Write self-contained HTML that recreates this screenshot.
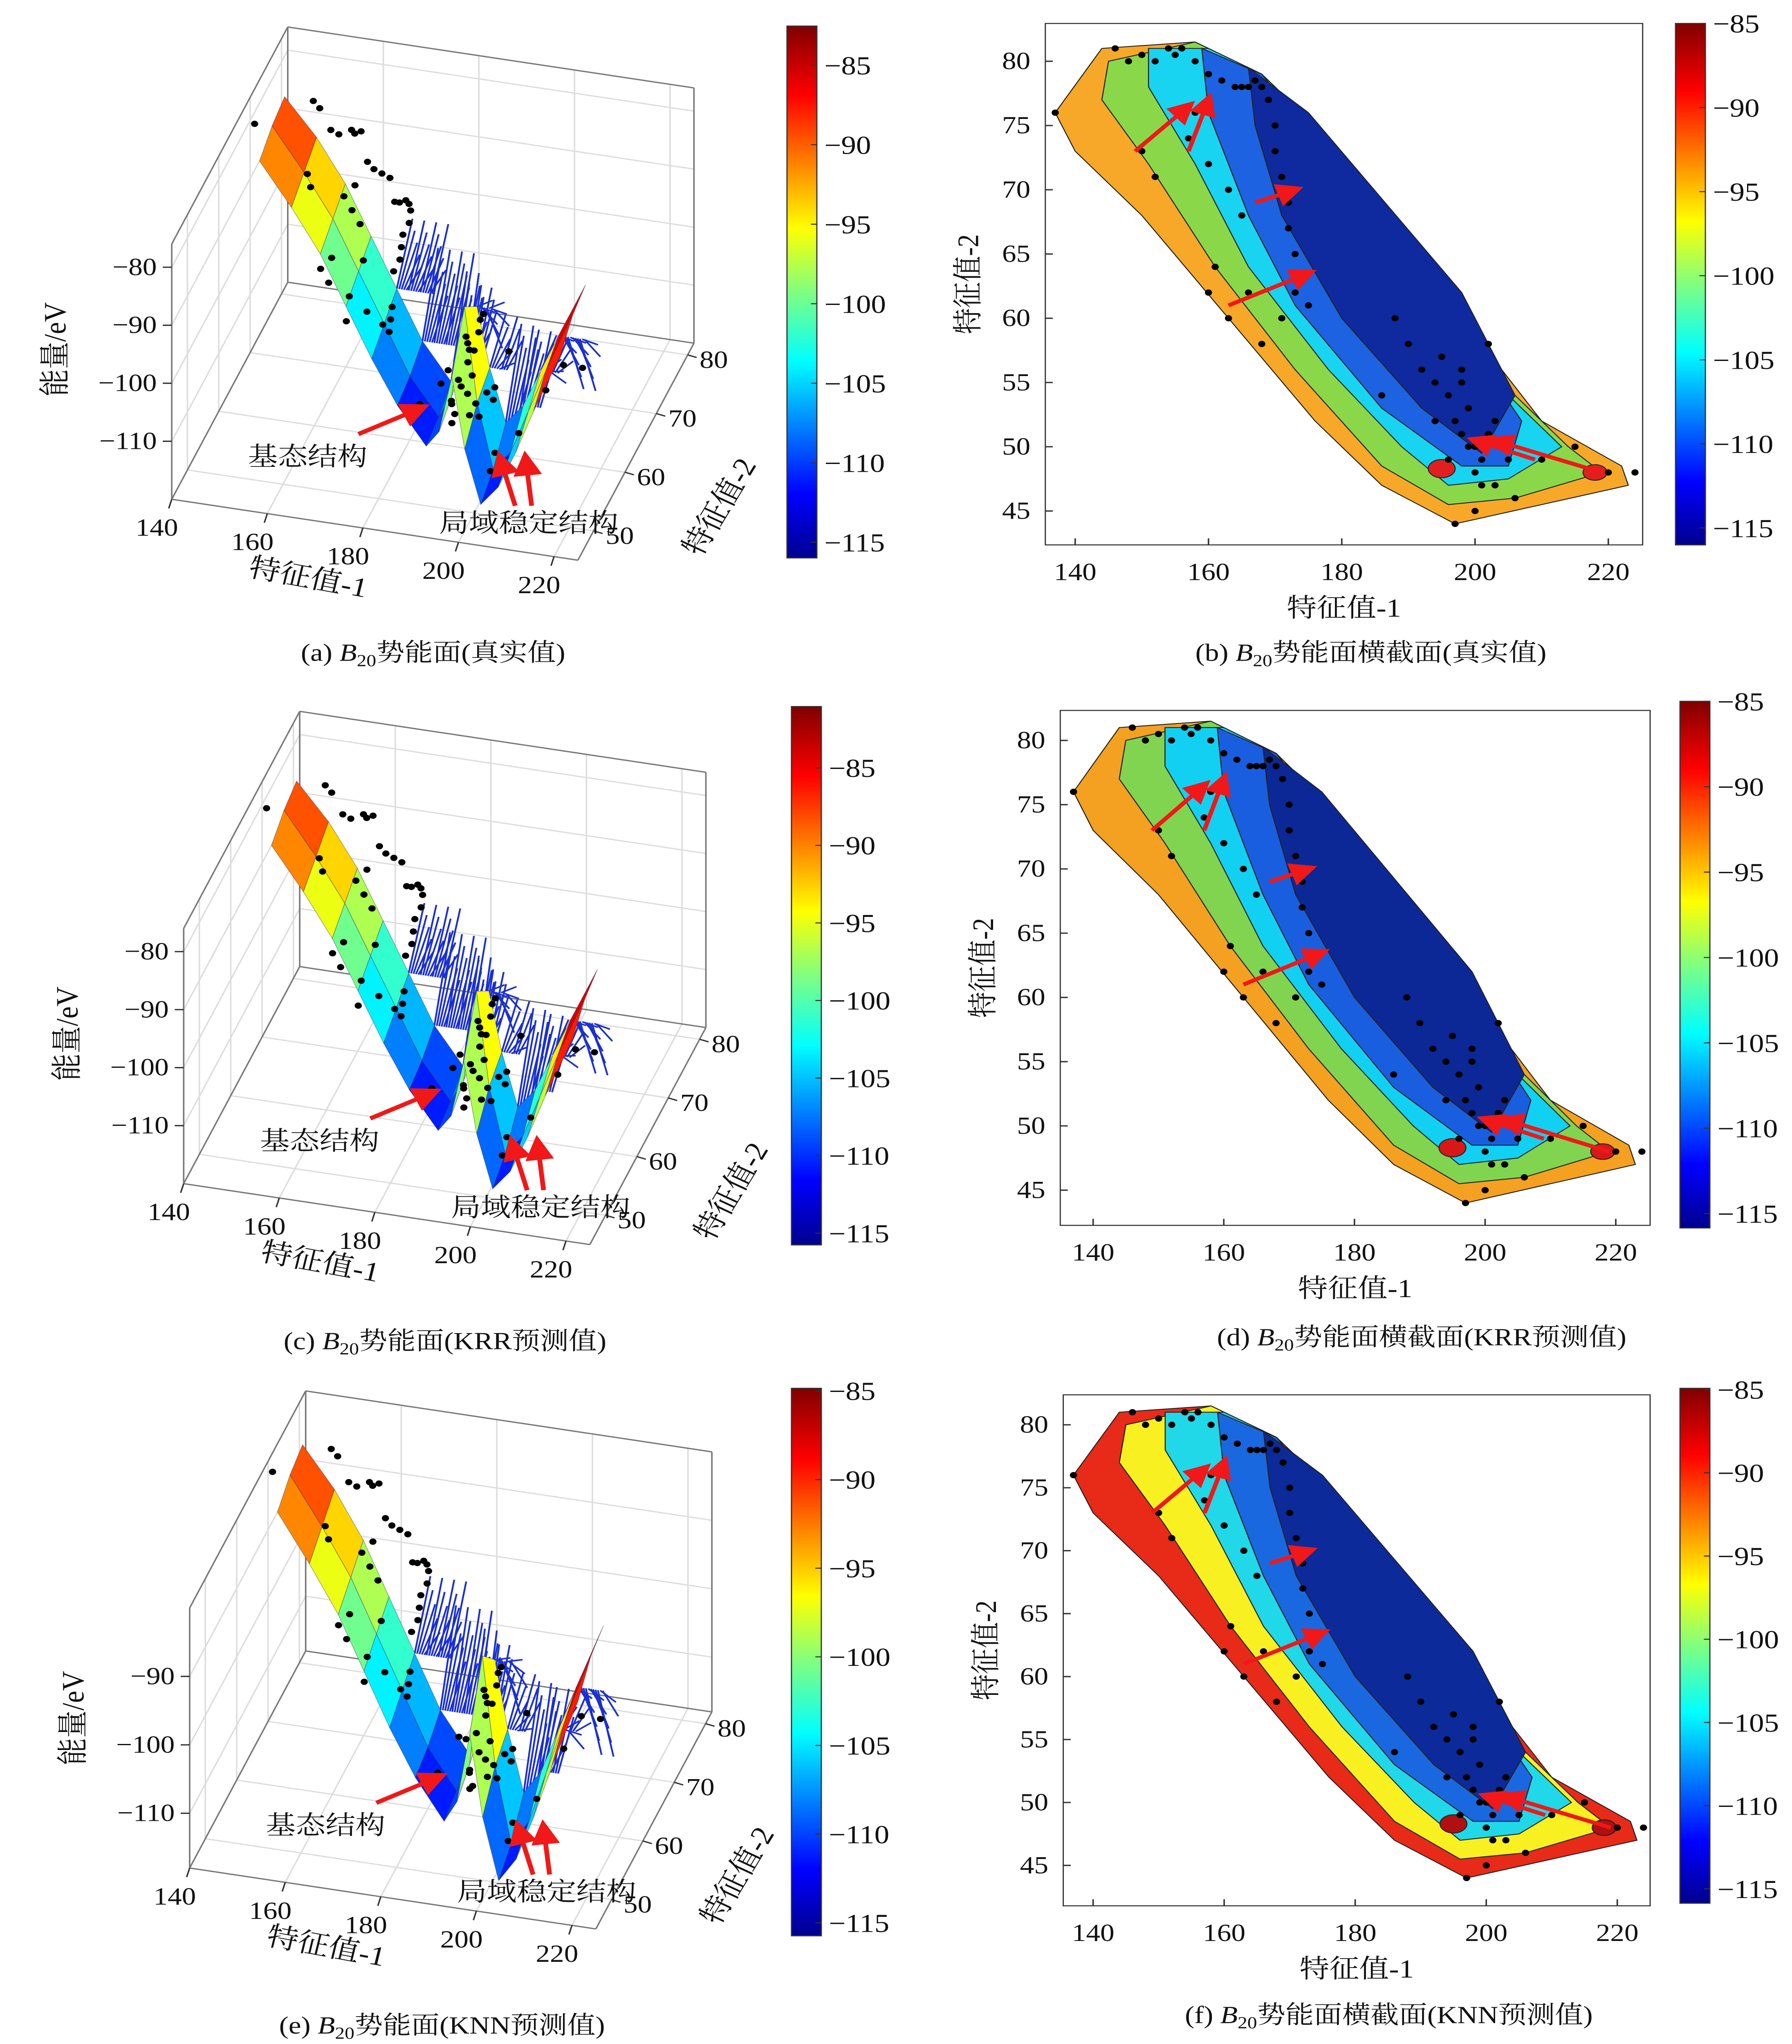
<!DOCTYPE html>
<html><head><meta charset="utf-8"><style>
html,body{margin:0;padding:0;background:#fff;overflow:hidden;}
svg{display:block;width:100vw;height:100vh;}
text{font-family:"Liberation Serif","Noto Serif CJK SC",serif;fill:#111;}
.cn{font-family:"Liberation Serif","Noto Serif CJK SC","Noto Sans CJK SC",serif;}
</style></head><body>
<svg id="fig" width="4383" height="5728" viewBox="0 0 1200 1568" preserveAspectRatio="none" xmlns="http://www.w3.org/2000/svg">
<defs>
<linearGradient id="jet" x1="0" y1="1" x2="0" y2="0">
<stop offset="0" stop-color="#00008f"/><stop offset="0.12" stop-color="#0000ff"/><stop offset="0.37" stop-color="#00ffff"/><stop offset="0.5" stop-color="#80ff80"/><stop offset="0.62" stop-color="#ffff00"/><stop offset="0.87" stop-color="#ff0000"/><stop offset="1" stop-color="#800000"/>
</linearGradient>
<marker id="ah" markerWidth="6" markerHeight="6" refX="4" refY="3" orient="auto"><path d="M0,0 L6,3 L0,6 z" fill="#f01818"/></marker>
</defs>
<g id="root"></g>
</svg>
<script>
// ---------- data arrays ----------
const cbTicks = [-85,-90,-95,-100,-105,-110,-115];
const xTicks = [140,160,180,200,220];
const yTicks = [45,50,55,60,65,70,75,80];
const zTicksA = [-80,-90,-100,-110];
const zTicksE = [-90,-100,-110];
const f2Ticks3d = [50,60,70,80];
// surface samples along the band
const bandF1 = [140,148,156,164,172,180,188,192,196,200,204,208,212,216,222];
const bandF2 = [77,75,72,68,64,60,57,55,53,51,50,49.5,49,48.5,48];
const eUpper = [-87,-91,-95,-99,-103,-107,-110,-104,-92,-100,-108,-104,-97,-90,-80];
const eMid   = [-88,-93,-97,-101,-105,-109,-112,-106,-88,-102,-112,-108,-100,-92,-81];
const eLower = [-90,-95,-99,-103,-107,-110,-113,-108,-96,-106,-114,-110,-103,-95,-84];
// scatter points (feature1, feature2)
const ptsF1 = [137,146,148,150,152,154,155,156,158,160,162,164,165,166,167,168,169,170,170,171,172,172,173,174,175,158,157,160,163,165,150,152,161,166,168,171,173,190,192,194,195,196,197,198,198,199,200,200,201,202,203,204,205,206,196,199,201,203,197,200,186,188,210,215,220,224,198,194,202,160,163];
const ptsF2 = [76,81,80,80.5,80,81,80.5,81,80,79,78.5,78,78,78,78.5,78,77,75,73,71,69,67,65,63,61,76,74,72,70,68,73,71,64,62,58,60,62,58,56,55,57,54,52,51,56,53,50,48,49,51,47,50,49,46,49,50,47,52,44,45,54,60,49,50,48,48,55,52,58,62,60];
// contour layers (feature1, feature2 polygons)
const L0 = [[137,76],[144,81],[158,81.5],[168,79],[176,75],[195,62],[210,52],[222,48.5],[223,47],[210,45.5],[197,44],[186,47],[176,52],[163,60],[150,68],[140,73]];
const L1 = [[145,80],[158,81.5],[168,79],[180,70],[200,57],[214,50],[219,48],[206,46],[196,45.5],[186,48.5],[173,56],[161,64],[151,72],[144,77]];
const L2 = [[151,81],[160,81],[168,79],[185,67],[205,54],[213,50],[205,47.5],[196,47],[189,50],[178,56],[166,64],[158,72],[151,78]];
const L3 = [[159,81],[168,79],[190,65],[207,52],[205,48.5],[198,48.5],[186,53],[173,61],[166,68],[160,76]];
const L4 = [[166,79.5],[175,76],[198,62],[206,54],[201,49.5],[192,53],[180,60],[171,68],[167,75]];
// arrows (from -> to) in data coords
const arrFrom = [[149,73],[157,73],[167,69],[163,61],[209,49],[219,48]];
const arrTo   = [[157,76.5],[160,77],[173,70],[175,63.5],[200,50.5],[203,50.5]];

// ---------- helpers ----------
const NS="http://www.w3.org/2000/svg";
const root=document.getElementById('root');
function el(tag,attrs,parent,txt){const e=document.createElementNS(NS,tag);for(const k in attrs)e.setAttribute(k,attrs[k]);if(txt!==undefined)e.textContent=txt;(parent||root).appendChild(e);return e;}
function jet(v){v=Math.max(0,Math.min(1,v));const r=Math.min(1,Math.max(0,1.5-Math.abs(4*v-3))),g=Math.min(1,Math.max(0,1.5-Math.abs(4*v-2))),b=Math.min(1,Math.max(0,1.5-Math.abs(4*v-1)));return `rgb(${Math.round(r*255)},${Math.round(g*255)},${Math.round(b*255)})`;}
function eColor(e){return jet((e+116)/(116-83));}

function colorbar(x,y0,y1,tTop,tBot,g){
  const r=el('rect',{x:x,y:y0,width:20,height:y1-y0,fill:'url(#jet)',stroke:'#333','stroke-width':0.8},g);
  
  
  cbTicks.forEach(v=>{const py=tTop+(v+85)/(-30)*(tBot-tTop);
    el('line',{x1:x+20,y1:py,x2:x+16,y2:py,stroke:'#333','stroke-width':0.8},g);
    const t=el('text',{x:x+25,y:py+7,'font-size':20},g,'\u2212'+Math.abs(v));
    
    });
}
function caption(cx,cy,pre,post,g){
  const t=el('text',{x:cx,y:cy,'font-size':19,'text-anchor':'middle',class:'cn'},g);
  
  
  el('tspan',{},t,pre+' ');el('tspan',{'font-style':'italic'},t,'B');el('tspan',{'font-size':13,dy:4},t,'20');el('tspan',{dy:-4},t,post);
}

// ---------- contour panels ----------
function contour(cfg){
  const g=el('g',{});
  
  
  const X=v=>cfg.x0p+(v-140)/80*(cfg.x1p-cfg.x0p);
  const Y=v=>cfg.y0p+(v-45)/35*(cfg.y1p-cfg.y0p);
  const [fx0,fy0,fx1,fy1]=cfg.frame;
  el('rect',{x:fx0,y:fy0,width:fx1-fx0,height:fy1-fy0,fill:'#fff',stroke:'#333','stroke-width':0.8},g);
  const layers=[L0,L1,L2,L3,L4];
  layers.forEach((L,i)=>{const p=el('path',{d:'M'+L.map(q=>X(q[0])+','+Y(q[1])).join('L')+'Z',fill:cfg.cols[i],stroke:'#222','stroke-width':0.7},g);
    
    });
  el('ellipse',{cx:X(195),cy:Y(48.3),rx:9,ry:7,fill:cfg.hot,stroke:'#222','stroke-width':0.7},g);
  el('ellipse',{cx:X(218),cy:Y(48),rx:8,ry:6,fill:cfg.hot,stroke:'#222','stroke-width':0.7},g);
  ptsF1.forEach((v,i)=>{const c=el('circle',{cx:X(v),cy:Y(ptsF2[i]),r:2.4,fill:'#000'},g);
    
    });
  arrFrom.forEach((a,i)=>{const b=arrTo[i];const l=el('line',{x1:X(a[0]),y1:Y(a[1]),x2:X(b[0]),y2:Y(b[1]),stroke:'#f01818','stroke-width':3,'marker-end':'url(#ah)'},g);
    
    });
  xTicks.forEach(v=>{el('line',{x1:X(v),y1:fy1,x2:X(v),y2:fy1-5,stroke:'#333'},g);
    const t=el('text',{x:X(v),y:fy1+27,'font-size':19,'text-anchor':'middle'},g,v);
    
    });
  yTicks.forEach(v=>{el('line',{x1:fx0,y1:Y(v),x2:fx0+5,y2:Y(v),stroke:'#333'},g);
    const t=el('text',{x:fx0-10,y:Y(v)+6,'font-size':19,'text-anchor':'end'},g,v);
    
    });
  const xl=el('text',{x:(fx0+fx1)/2,y:fy1+55,'font-size':20,'text-anchor':'middle',class:'cn'},g,'特征值-1');
  
  
  const yl=el('text',{x:0,y:0,'font-size':20,'text-anchor':'middle',class:'cn',transform:`translate(${fx0-45},${(fy0+fy1)/2}) rotate(-90)`},g,'特征值-2');
  
  
  colorbar(cfg.cb[0],cfg.cb[1],cfg.cb[2],cfg.cb[3],cfg.cb[4],g);
  caption(cfg.cap[0],cfg.cap[1],cfg.cap[2],cfg.cap[3],g);
}
contour({name:'panel-b',frame:[700,18,1100,418],x0p:720,x1p:1077,y0p:392,y1p:47,cb:[1122,18,418,18,405],
  cols:['#f7a828','#8ad84a','#18d4f0','#1d62e0','#0e2a9e'],hot:'#e02020',cap:[918,507,'(b)','势能面横截面(真实值)']});
contour({name:'panel-d',frame:[710,545,1105,940],x0p:732,x1p:1082,y0p:913,y1p:568,cb:[1125,538,942,538,931],
  cols:['#f4a020','#80d450','#12d0f2','#1a5ee0','#0c2896'],hot:'#d81818',cap:[952,1032,'(d)','势能面横截面(KRR预测值)']});
contour({name:'panel-f',frame:[712,1070,1105,1462],x0p:732,x1p:1083,y0p:1431,y1p:1093,cb:[1125,1065,1460,1066,1449],
  cols:['#e82a18','#f8f020','#20d8e8','#1a68e0','#0c2a9a'],hot:'#b01010',cap:[930,1552,'(f)','势能面横截面(KNN预测值)']});

// ---------- 3D panels ----------
function surf3d(cfg){
  const g=el('g',{transform:`translate(${cfg.dx},${cfg.dy})`});
  
  
  const zs=cfg.zs;
  const P=(f1,f2,z)=>[115+(f1-140)*3.2+(f2-45)*2.1, 383+(f1-140)*0.55-(f2-45)*4.5-(z-cfg.zb)*zs];
  const line=(a,b,c,w)=>el('line',{x1:a[0],y1:a[1],x2:b[0],y2:b[1],stroke:c||'#777','stroke-width':w||1},g);
  const zb=cfg.zb,zt=cfg.zt;
  [160,180,200,220].forEach(v=>{line(P(v,45,zb),P(v,82,zb),'#ddd');line(P(v,82,zb),P(v,82,zt),'#ddd');});
  [50,60,70,80].forEach(v=>{line(P(140,v,zb),P(225,v,zb),'#ddd');line(P(140,v,zb),P(140,v,zt),'#ddd');});
  cfg.zt_.forEach(v=>{line(P(140,45,v),P(140,82,v),'#ddd');line(P(140,82,v),P(225,82,v),'#ddd');});
  line(P(140,45,zb),P(225,45,zb));line(P(225,45,zb),P(225,82,zb));
  line(P(140,45,zb),P(140,45,zt));line(P(140,45,zt),P(140,82,zt));
  line(P(140,82,zt),P(225,82,zt));line(P(225,82,zt),P(225,82,zb));
  line(P(140,82,zb),P(140,82,zt));line(P(140,45,zb),P(140,82,zb));line(P(140,82,zb),P(225,82,zb));
  // dense blue spikes behind the surface
  for(let i=4;i<bandF1.length-1;i++){const n=Math.round((bandF1[i+1]-bandF1[i])*2);
    for(let k=0;k<n;k++){const f1=bandF1[i]+k*0.5,f2=bandF2[i]+4;
      line(P(f1,f2,eUpper[i]),P(f1,f2+5,-96-(k%5)*2),'#1b30d0',1.2);}}
  for(let i=0;i<bandF1.length-1;i++){
    const rows=[[4,eUpper],[0,eMid],[-4,eLower]];
    for(let r=0;r<2;r++){
      const [o1,e1]=rows[r],[o2,e2]=rows[r+1];
      const pts=[P(bandF1[i],bandF2[i]+o1,e1[i]),P(bandF1[i+1],bandF2[i+1]+o1,e1[i+1]),P(bandF1[i+1],bandF2[i+1]+o2,e2[i+1]),P(bandF1[i],bandF2[i]+o2,e2[i])];
      const avg=(e1[i]+e1[i+1]+e2[i]+e2[i+1])/4;
      const p=el('path',{d:'M'+pts.map(q=>q.join(',')).join('L')+'Z',fill:eColor(avg),stroke:'#335','stroke-width':0.4,'stroke-opacity':0.5},g);
      
      
    }
  }
  ptsF1.forEach((v,i)=>{let j=0;while(j<bandF1.length-2&&bandF1[j+1]<v)j++;
    const e=eUpper[j];const q=P(v,ptsF2[i],e);
    const c=el('circle',{cx:q[0],cy:q[1],r:2.4,fill:'#000'},g);
    
    });
  xTicks.forEach(v=>{const q=P(v,45,zb);line(q,[q[0]-2,q[1]+7],'#333');
    const t=el('text',{x:q[0]-10,y:q[1]+28,'font-size':19,'text-anchor':'middle'},g,v);
    
    });
  f2Ticks3d.forEach(v=>{const q=P(225,v,zb);line(q,[q[0]+6,q[1]+2],'#333');
    const t=el('text',{x:q[0]+8,y:q[1]+10,'font-size':19},g,v);
    
    });
  cfg.zt_.forEach(v=>{const q=P(140,45,v);line(q,[q[0]-6,q[1]],'#333');
    const t=el('text',{x:q[0]-10,y:q[1]+6,'font-size':19,'text-anchor':'end'},g,'\u2212'+Math.abs(v));
    
    });
  const t1=el('text',{x:0,y:0,'font-size':21,class:'cn',transform:'translate(205,450) rotate(12)','text-anchor':'middle'},g,'特征值-1');
  
  
  const t2=el('text',{x:0,y:0,'font-size':21,class:'cn',transform:'translate(488,392) rotate(-62)','text-anchor':'middle'},g,'特征值-2');
  
  
  const t3=el('text',{x:0,y:0,'font-size':21,class:'cn',transform:'translate(44,268) rotate(-90)','text-anchor':'middle'},g,'能量/eV');
  
  
  const a1=el('text',{x:166,y:357,'font-size':20,class:'cn'},g,'基态结构');
  
  
  const a2=el('text',{x:294,y:408,'font-size':20,class:'cn'},g,'局域稳定结构');
  
  
  [[240,333,282,313],[345,388,335,352],[356,388,352,352]].forEach(a=>{
    const l=el('line',{x1:a[0],y1:a[1],x2:a[2],y2:a[3],stroke:'#f01818','stroke-width':3.2,'marker-end':'url(#ah)'},g);
    
    });
  colorbar(cfg.cb[0],cfg.cb[1],cfg.cb[2],cfg.cb[3],cfg.cb[4],root);
  caption(cfg.cap[0],cfg.cap[1],cfg.cap[2],cfg.cap[3],root);
}
surf3d({name:'panel-a',dx:0,dy:0,zs:4.45,zb:-120,zt:-76,zt_:zTicksA,cb:[527,20,428,50,416],cap:[290,507,'(a)','势能面(真实值)']});
surf3d({name:'panel-c',dx:8,dy:525,zs:4.45,zb:-120,zt:-76,zt_:zTicksA,cb:[530,542,955,589,946],cap:[298,1035,'(c)','势能面(KRR预测值)']});
surf3d({name:'panel-e',dx:12,dy:1050,zs:5.25,zb:-118,zt:-80,zt_:zTicksE,cb:[530,1065,1485,1067,1475],cap:[296,1560,'(e)','势能面(KNN预测值)']});
</script>
</body></html>
